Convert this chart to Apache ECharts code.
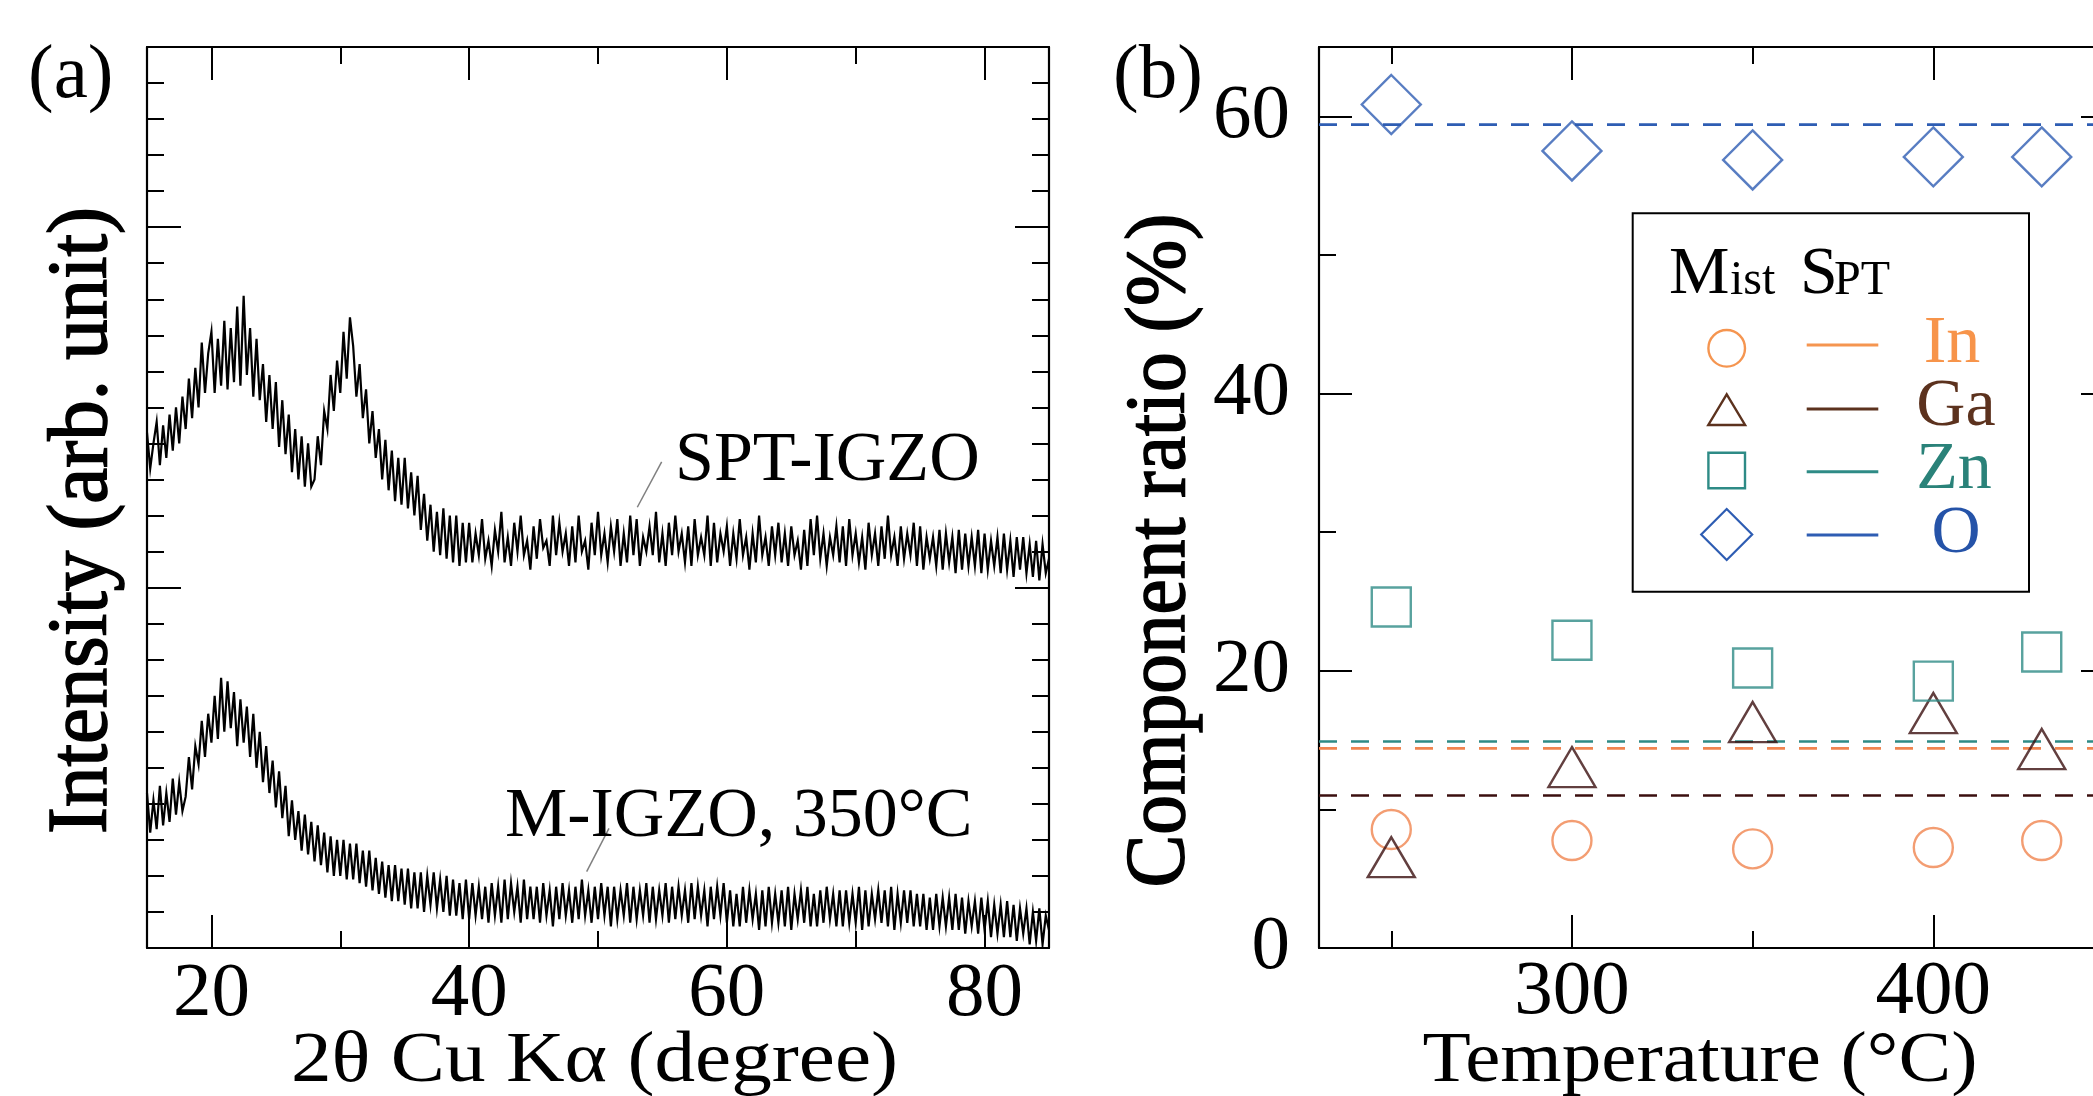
<!DOCTYPE html>
<html><head><meta charset="utf-8">
<script src="https://cdn.jsdelivr.net/npm/echarts@6/dist/echarts.min.js"></script>
<style>html,body{margin:0;padding:0;background:#fff;overflow:hidden;}#c{width:2140px;height:1096px;}</style>
</head><body><div id="c"></div>
<script>
// ---------- Panel (a): XRD ----------
const xrdStart = 15, xrdStep = 0.25;
const sptIGZO = [
14.3,13.3,14.0,14.6, 13.4,14.5,13.6,14.8, 13.8,15.0,14.0,15.3, 14.4,15.8,14.7,16.1,
15.0,16.8,15.4,16.5, 17.1,15.4,16.9,15.6, 17.4,15.5,17.2,15.7, 17.8,15.6,18.1,15.9,
17.2,15.3,16.9,15.2, 16.2,14.6,15.9,14.4, 15.7,13.9,15.2,13.7, 14.8,13.2,14.4,13.0,
14.2,12.8,14.0,12.8, 13.0,14.2,13.4,14.9, 14.4,15.9,14.9,16.3, 15.4,17.1,15.8,17.5,
16.7,15.3,16.2,14.7, 15.5,14.0,14.9,13.6, 14.4,13.0,14.1,12.7, 13.8,12.4,13.6,12.3,
13.6,12.2,13.2,12.0, 13.1,11.6,12.6,11.3, 12.3,11.0,12.1,10.9, 12.2,10.8,12.0,10.7,
12.0,10.6,11.8,10.7,
11.8,10.7,11.5,10.9, 11.9,10.8,11.3,10.6, 11.6,11.0,12.1,10.7, 11.4,10.6,11.8,11.0,
12.0,10.9,11.3,10.5, 11.7,10.8,11.9,11.1, 11.3,10.6,12.0,10.9, 11.8,11.0,11.5,10.6,
11.7,10.7,12.0,11.0, 11.3,10.5,11.8,10.9, 12.1,10.9,11.5,10.7, 11.7,11.0,11.9,10.6,
11.5,10.7,12.0,10.9, 11.9,10.6,11.4,11.0, 11.7,10.9,12.1,10.7, 11.5,10.6,11.8,10.9,
12.0,11.0,11.5,10.7, 11.7,10.6,11.9,10.9, 11.4,10.9,12.0,10.6, 11.8,10.7,11.5,11.0,
11.7,10.6,11.5,10.8, 11.9,10.9,11.4,10.5, 11.5,10.7,12.0,10.9, 11.4,10.6,11.7,10.9,
11.8,10.7,11.5,10.6, 11.7,10.9,11.3,10.5, 11.6,10.6,11.9,10.9, 12.0,10.8,11.5,10.6,
11.4,10.9,11.7,10.7, 11.7,10.6,11.9,10.9, 11.5,10.7,11.4,10.5, 11.8,10.9,11.5,10.6,
11.7,10.8,12.0,10.9, 11.4,10.6,11.7,10.8, 11.5,10.9,11.8,10.6, 11.7,10.5,11.4,10.8,
11.4,10.6,11.6,10.5, 11.5,10.7,11.4,10.4, 11.6,10.5,11.5,10.6, 11.4,10.6,11.6,10.4,
11.5,10.5,11.3,10.6, 11.4,10.4,11.5,10.5, 11.3,10.3,11.4,10.5, 11.4,10.4,11.2,10.3,
11.3,10.2,11.2,10.4, 10.8
];
const mIGZO = [
4.3,3.2,4.1,3.3, 4.5,3.4,4.3,3.5, 4.7,3.7,4.6,3.8, 4.2,5.3,4.4,5.6,
5.1,6.3,5.3,6.5, 5.7,7.0,5.8,7.5, 6.0,7.4,6.1,7.1, 5.6,6.9,5.7,6.7,
5.3,6.5,5.0,6.0, 4.6,5.6,4.3,5.2, 3.9,4.9,3.6,4.5, 3.1,4.1,3.0,3.8,
2.7,3.7,2.6,3.5, 2.4,3.4,2.3,3.2, 2.1,3.1,2.0,3.0, 2.0,3.0,1.9,2.9,
1.9,2.9,1.8,2.7, 1.7,2.7,1.6,2.5, 1.5,2.4,1.4,2.3, 1.3,2.3,1.3,2.2,
1.2,2.2,1.1,2.1, 1.1,2.1,1.0,2.0, 1.2,2.1,1.1,1.9, 1.0,2.0,0.9,1.9,
0.9,1.8,0.8,1.9, 0.8,1.8,0.9,1.7, 0.8,1.7,0.7,1.8, 0.9,1.7,0.7,1.9,
0.8,1.8,1.0,1.7, 0.7,1.9,0.8,1.7,
0.8,1.7,0.7,1.8, 0.9,1.6,0.6,1.7, 0.8,1.8,0.9,1.6, 0.7,1.7,0.8,1.9,
0.9,1.6,0.7,1.7, 0.8,1.8,0.9,1.7, 0.6,1.7,0.8,1.6, 0.9,1.8,0.7,1.7,
0.8,1.6,0.9,1.8, 0.7,1.7,0.8,1.6, 0.9,1.8,0.7,1.7, 0.8,1.7,0.9,1.6,
0.7,1.8,0.8,1.7, 0.9,1.6,0.6,1.7, 0.8,1.7,0.9,1.8,
0.7,1.6,0.6,1.5, 0.6,1.7,0.7,1.6, 0.8,1.5,0.5,1.6, 0.6,1.7,0.7,1.5,
0.7,1.6,0.6,1.7, 0.5,1.5,0.8,1.6, 0.7,1.7,0.6,1.5, 0.6,1.6,0.7,1.7,
0.8,1.5,0.6,1.6, 0.6,1.6,0.7,1.5, 0.7,1.7,0.5,1.6, 0.6,1.5,0.8,1.6,
0.7,1.6,0.6,1.7, 0.5,1.5,0.7,1.6, 0.7,1.6,0.6,1.5, 0.6,1.5,0.5,1.4,
0.5,1.5,0.6,1.4, 0.6,1.4,0.5,1.5, 0.5,1.4,0.4,1.3, 0.6,1.3,0.4,1.4,
0.5,1.3,0.3,1.2, 0.4,1.2,0.3,1.3, 0.3,1.2,0.2,1.1, 0.4,1.1,0.1,1.0,
0.2,1.1,0.1,0.9, 0.5
];
const xrdMin = 15, xrdMax = 85;
const intMin = 0, intMax = 25;
const xrdTicksMajor = [20, 40, 60, 80];
const xrdTicksMinor = [30, 50, 70];
const intTicksMajor = [0, 10, 20];
const intTicksMinor = [1,2,3,4,5,6,7,8,9,11,12,13,14,15,16,17,18,19,21,22,23,24];
const sptLeader = [[54.94, 13.49], [53.05, 12.23]];
const mLeader = [[50.85, 3.32], [49.12, 2.12]];

// ---------- Panel (b): composition ----------
const temps = [250, 300, 350, 400, 430];
const mistIn = [8.55, 7.75, 7.15, 7.25, 7.75];
const mistGa = [6.55, 13.05, 16.3, 16.95, 14.35];
const mistZn = [24.6, 22.2, 20.2, 19.25, 21.35];
const mistO  = [60.85, 57.5, 56.85, 57.07, 57.07];
const sptIn = 14.4, sptGa = 11.0, sptZn = 14.9, sptO = 59.4;
const tempMin = 230, tempMax = 450;
const ratioMin = 0, ratioMax = 65;
const tempTicksMajor = [300, 400];
const tempTicksMinor = [250, 350, 450];
const ratioTicksMajor = [0, 20, 40, 60];
const ratioTicksMinor = [10, 30, 50];

const C_IN = '#F0844F', C_GA = '#3B0F0F', C_ZN = '#2E8B86', C_O = '#2E5DB3';
const C_IN_T = '#F7944A', C_GA_L = '#5C321E', C_ZN_T = '#2A8279', C_O_T = '#2553A8';
const SERIF = 'Liberation Serif';

const chart = echarts.init(document.getElementById('c'), null, {renderer: 'canvas'});

function ax(grid, pos, min, max, ticks, len, line, labels, lopts) {
  return {
    type: 'value', gridIndex: grid, position: pos, min: min, max: max,
    axisLine: {show: line, onZero: false, lineStyle: {color: '#000', width: 2.2}},
    axisTick: {show: true, inside: true, length: len, customValues: ticks, lineStyle: {color: '#000', width: 2}},
    axisLabel: labels ? Object.assign({show: true, customValues: labels, color: '#000', fontFamily: SERIF, fontSize: 77}, lopts || {}) : {show: false},
    splitLine: {show: false}, minorTick: {show: false}, minorSplitLine: {show: false}
  };
}

const xAxes = [
  ax(0, 'bottom', xrdMin, xrdMax, xrdTicksMajor, 33, true, xrdTicksMajor, {margin: 8}),
  ax(0, 'bottom', xrdMin, xrdMax, xrdTicksMinor, 17, false),
  ax(0, 'top', xrdMin, xrdMax, xrdTicksMajor, 33, true),
  ax(0, 'top', xrdMin, xrdMax, xrdTicksMinor, 17, false),
  ax(1, 'bottom', tempMin, tempMax, tempTicksMajor, 33, true, tempTicksMajor, {margin: 6}),
  ax(1, 'bottom', tempMin, tempMax, tempTicksMinor, 17, false),
  ax(1, 'top', tempMin, tempMax, tempTicksMajor, 33, true),
  ax(1, 'top', tempMin, tempMax, tempTicksMinor, 17, false)
];
const yAxes = [
  ax(0, 'left', intMin, intMax, intTicksMajor, 34, true),
  ax(0, 'left', intMin, intMax, intTicksMinor, 17, false),
  ax(0, 'right', intMin, intMax, intTicksMajor, 34, true),
  ax(0, 'right', intMin, intMax, intTicksMinor, 17, false),
  ax(1, 'left', ratioMin, ratioMax, ratioTicksMajor, 33, true, ratioTicksMajor, {margin: 29, padding: [0, 0, 30, 0]}),
  ax(1, 'left', ratioMin, ratioMax, ratioTicksMinor, 17, false),
  ax(1, 'right', ratioMin, ratioMax, ratioTicksMajor, 33, true),
  ax(1, 'right', ratioMin, ratioMax, ratioTicksMinor, 17, false)
];

function xrdPairs(vals) { return vals.map((v, i) => [xrdStart + xrdStep * i, v]); }
function pts(vals) { return temps.map((t, i) => [t, vals[i]]); }

function scat(name, vals, symbol, size, color) {
  return {type: 'scatter', name: name, xAxisIndex: 4, yAxisIndex: 4, data: pts(vals),
    symbol: symbol, symbolSize: size, z: 5,
    itemStyle: {color: 'rgba(0,0,0,0)', borderColor: color, borderWidth: 2.4}};
}
function hline(val, color) {
  return {type: 'line', xAxisIndex: 4, yAxisIndex: 4, data: [[tempMin, val], [tempMax, val]],
    showSymbol: false, symbol: 'none', z: 3,
    lineStyle: {color: color, width: 2.6, type: [18, 14]}};
}

const series = [
  {type: 'line', name: 'SPT-IGZO', xAxisIndex: 0, yAxisIndex: 0, data: xrdPairs(sptIGZO),
    showSymbol: false, symbol: 'none', lineStyle: {color: '#000', width: 2.2, join: 'miter'}},
  {type: 'line', name: 'M-IGZO', xAxisIndex: 0, yAxisIndex: 0, data: xrdPairs(mIGZO),
    showSymbol: false, symbol: 'none', lineStyle: {color: '#000', width: 2.2, join: 'miter'}},
  {type: 'line', xAxisIndex: 0, yAxisIndex: 0, data: sptLeader, symbol: 'none', lineStyle: {color: '#808080', width: 1.5}},
  {type: 'line', xAxisIndex: 0, yAxisIndex: 0, data: mLeader, symbol: 'none', lineStyle: {color: '#808080', width: 1.5}},
  hline(sptO, C_O), hline(sptZn, C_ZN), hline(sptIn, C_IN), hline(sptGa, C_GA),
  scat('In', mistIn, 'circle', 39, C_IN),
  scat('Ga', mistGa, 'triangle', [47, 40], C_GA),
  scat('Zn', mistZn, 'rect', 39, C_ZN),
  scat('O', mistO, 'diamond', 59, C_O)
];

// text helpers
const mctx = document.createElement('canvas').getContext('2d');
function tw(text, size, family, weight) {
  mctx.font = (weight || 'normal') + ' ' + size + 'px "' + family + '"';
  return mctx.measureText(text).width;
}
function txt(text, x, y, size, opts) {
  opts = opts || {};
  const family = opts.family || SERIF;
  const weight = opts.weight || 'normal';
  let sx = 1;
  if (opts.width) sx = opts.width / tw(text, size, family, weight);
  const style = {text: text, fontSize: size, fontFamily: family, fontWeight: weight,
      fill: opts.color || '#000', align: opts.align || 'left', verticalAlign: 'middle'};
  if (opts.stroke) { style.stroke = opts.color || '#000'; style.lineWidth = opts.stroke; }
  return {type: 'text', x: x, y: y, rotation: opts.rot || 0, scaleX: sx, scaleY: 1, z: 10, style: style};
}

const LX = 1726.7;
const legendEls = [
  {type: 'rect', shape: {x: 1632.7, y: 213.3, width: 396.3, height: 378.4}, style: {fill: '#fff', stroke: '#000', lineWidth: 2}, z: 8},
  txt('M', 1669, 275, 68), txt('ist', 1730, 281.8, 48), txt('S', 1800, 275, 68), txt('PT', 1834, 281.8, 48),
  {type: 'circle', shape: {cx: LX, cy: 348.3, r: 18.3}, style: {fill: 'none', stroke: '#F59550', lineWidth: 2.4}, z: 10},
  {type: 'polygon', shape: {points: [[LX, 394.3], [LX - 18.4, 425], [LX + 18.4, 425]]}, style: {fill: 'none', stroke: C_GA_L, lineWidth: 2.4}, z: 10},
  {type: 'rect', shape: {x: LX - 18.3, y: 452.7, width: 36.6, height: 35.6}, style: {fill: 'none', stroke: C_ZN, lineWidth: 2.4}, z: 10},
  {type: 'polygon', shape: {points: [[LX, 509], [LX + 25.5, 534.5], [LX, 560], [LX - 25.5, 534.5]]}, style: {fill: 'none', stroke: C_O, lineWidth: 2.2}, z: 10},
  {type: 'line', shape: {x1: 1806.7, y1: 345, x2: 1878.3, y2: 345}, style: {stroke: '#F59550', lineWidth: 3}, z: 10},
  {type: 'line', shape: {x1: 1806.7, y1: 409, x2: 1878.3, y2: 409}, style: {stroke: C_GA_L, lineWidth: 3}, z: 10},
  {type: 'line', shape: {x1: 1806.7, y1: 471.7, x2: 1878.3, y2: 471.7}, style: {stroke: C_ZN, lineWidth: 3}, z: 10},
  {type: 'line', shape: {x1: 1806.7, y1: 535, x2: 1878.3, y2: 535}, style: {stroke: C_O, lineWidth: 3}, z: 10},
  txt('In', 1952, 343.8, 68, {align: 'center', color: C_IN_T}),
  txt('Ga', 1956, 407, 68, {align: 'center', color: C_GA_L}),
  txt('Zn', 1954, 469.7, 68, {align: 'center', color: C_ZN_T}),
  txt('O', 1956, 533.7, 68, {align: 'center', color: C_O_T})
];

const graphics = [
  txt('(a)', 28, 76.5, 77),
  txt('(b)', 1113, 76.5, 77),
  txt('SPT-IGZO', 675, 461.4, 70),
  txt('M-IGZO, 350°C', 505, 818, 70),
  txt('2θ Cu Kα (degree)', 594.5, 1062, 72, {align: 'center', width: 607}),
  txt('Temperature (°C)', 1700, 1062, 72, {align: 'center', width: 555}),
  txt('Intensity (arb. unit)', 84, 520.5, 84, {align: 'center', rot: Math.PI / 2, width: 627, stroke: 1.6}),
  txt('Component ratio (%)', 1162, 550.6, 84, {align: 'center', rot: Math.PI / 2, width: 674, stroke: 1.6})
].concat(legendEls);

chart.setOption({
  animation: false,
  backgroundColor: '#fff',
  grid: [
    {left: 147, top: 47, width: 902, height: 901, containLabel: false},
    {left: 1319, top: 47, width: 795, height: 901, containLabel: false}
  ],
  xAxis: xAxes,
  yAxis: yAxes,
  series: series,
  graphic: graphics
});
</script>
</body></html>
